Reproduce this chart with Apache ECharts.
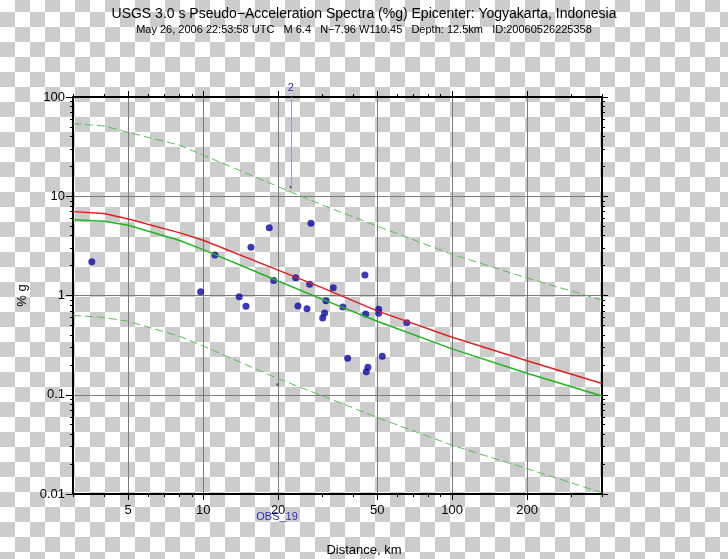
<!DOCTYPE html>
<html><head><meta charset="utf-8">
<script src="https://cdn.jsdelivr.net/npm/echarts@6/dist/echarts.min.js"></script>
<style>
html,body{margin:0;padding:0;}
body{width:728px;height:559px;overflow:hidden;
background:repeating-conic-gradient(#cccccc 0 25%, #ffffff 0 50%) 0 -3px/30px 30px;}
#chart{width:728px;height:559px;}
</style></head>
<body><div id="chart"></div>
<script>
// Distances (km) at which the model curves are read
const dist = [3, 4, 5, 8, 10, 20, 30, 50, 100, 200, 400];
// Red curve (%g)
const redCurve = [7.0, 6.7, 5.9, 4.3, 3.6, 1.8, 1.2, 0.70, 0.38, 0.22, 0.13];
// Green solid curve (%g)
const greenCurve = [5.8, 5.6, 5.1, 3.6, 2.9, 1.4, 0.92, 0.55, 0.29, 0.165, 0.097];
// Green dashed upper curve (%g)
const upperCurve = [54, 51, 44, 32.8, 26, 12.5, 8.2, 5.0, 2.6, 1.5, 0.9];
// Green dashed lower curve (%g)
const lowerCurve = [0.63, 0.60, 0.55, 0.39, 0.31, 0.145, 0.098, 0.059, 0.031, 0.018, 0.0103];

// Observed stations
const obsDist = [3.57, 9.77, 11.15, 13.96, 14.86, 15.56, 18.43, 19.19, 23.52, 24.03, 26.12, 27.1, 26.78,
  31.13, 30.75, 30.2, 33.3, 36.4, 38.05, 44.65, 44.94, 45.9, 45.19, 50.68, 50.68, 52.4, 65.8];
const obsVal = [2.19, 1.09, 2.56, 0.973, 0.778, 3.06, 4.82, 1.42, 1.51, 0.784, 0.736, 5.34, 1.30,
  0.886, 0.666, 0.593, 1.20, 0.766, 0.233, 1.61, 0.651, 0.189, 0.171, 0.726, 0.662, 0.244, 0.532];

// Small markers
const markDist = [22.5, 19.9];
const markVal = [12.4, 0.127];

// Tick values
const xMajor = [5, 10, 20, 50, 100, 200];
const xMinor = [3, 4, 6, 7, 8, 9, 30, 40, 60, 70, 80, 90, 300, 400];
const yMajor = [0.01, 0.1, 1, 10, 100];
const yMinor = [0.02, 0.03, 0.04, 0.05, 0.06, 0.07, 0.08, 0.09,
  0.2, 0.3, 0.4, 0.5, 0.6, 0.7, 0.8, 0.9,
  2, 3, 4, 5, 6, 7, 8, 9,
  20, 30, 40, 50, 60, 70, 80, 90];

const FONT = 'Liberation Sans, Arial, Helvetica, sans-serif';
const pair = (xs, ys) => xs.map((x, i) => [x, ys[i]]);

function xAx(pos, ticks, len, showLine, showLabel, split) {
  return {
    type: 'log', min: 3, max: 400, position: pos, gridIndex: 0,
    axisLine: {show: showLine, onZero: false, lineStyle: {color: '#000', width: 2}},
    axisTick: {show: true, customValues: ticks, length: len, inside: false, lineStyle: {color: '#000', width: 1}},
    axisLabel: {show: showLabel, customValues: ticks, margin: 10, color: '#000', fontSize: 13, fontFamily: FONT,
      formatter: v => String(v)},
    splitLine: {show: split, lineStyle: {color: '#7a7a7a', width: 1}},
    minorTick: {show: false}
  };
}
function yAx(pos, ticks, len, showLine, showLabel, split) {
  return {
    type: 'log', min: 0.01, max: 100, position: pos, gridIndex: 0,
    axisLine: {show: showLine, onZero: false, lineStyle: {color: '#000', width: 2}},
    axisTick: {show: true, customValues: ticks, length: len, inside: false, lineStyle: {color: '#000', width: 1}},
    axisLabel: {show: showLabel, customValues: ticks, margin: 8, color: '#000', fontSize: 13, fontFamily: FONT,
      formatter: v => String(v)},
    splitLine: {show: split, lineStyle: {color: '#7a7a7a', width: 1}},
    minorTick: {show: false}
  };
}

const xAxes = [
  xAx('bottom', xMajor, 6, true, true, true),
  xAx('bottom', xMinor, 3, false, false, false),
  xAx('top', xMajor, 6, true, false, false),
  xAx('top', xMinor, 3, false, false, false)
];
const yAxes = [
  Object.assign(yAx('left', yMajor, 7, true, true, true), {
    name: '% g', nameLocation: 'middle', nameRotate: 90, nameGap: 40,
    nameTextStyle: {color: '#000', fontSize: 13, fontFamily: FONT}
  }),
  yAx('left', yMinor, 3, false, false, false),
  yAx('right', yMajor, 6, true, false, false),
  yAx('right', yMinor, 3, false, false, false)
];

const chart = echarts.init(document.getElementById('chart'), null, {renderer: 'canvas'});
chart.setOption({
  animation: false,
  backgroundColor: 'transparent',
  title: [
    {text: 'USGS 3.0 s Pseudo\u2212Acceleration Spectra (%g) Epicenter: Yogyakarta, Indonesia',
      left: 'center', top: 2, textStyle: {fontSize: 14, fontWeight: 'normal', color: '#000', fontFamily: FONT}},
    {text: 'May 26, 2006 22:53:58 UTC   M 6.4   N\u22127.96 W110.45   Depth: 12.5km   ID:20060526225358',
      left: 'center', top: 19, textStyle: {fontSize: 11, fontWeight: 'normal', color: '#000', fontFamily: FONT}},
    {text: 'Distance, km', left: 'center', top: 539,
      textStyle: {fontSize: 13, fontWeight: 'normal', color: '#000', fontFamily: FONT}}
  ],
  grid: {left: 73, right: 126, top: 97, bottom: 65, containLabel: false},
  xAxis: xAxes,
  yAxis: yAxes,
  series: [
    {type: 'line', name: 'upper', data: pair(dist, upperCurve), showSymbol: false, silent: true,
      lineStyle: {color: '#4fc44f', width: 1, type: [8, 4]}},
    {type: 'line', name: 'lower', data: pair(dist, lowerCurve), showSymbol: false, silent: true,
      lineStyle: {color: '#4fc44f', width: 1, type: [8, 4]}},
    {type: 'line', name: 'green', data: pair(dist, greenCurve), showSymbol: false, silent: true,
      lineStyle: {color: '#1fb51f', width: 1.5}},
    {type: 'line', name: 'red', data: pair(dist, redCurve), showSymbol: false, silent: true,
      lineStyle: {color: '#e0201f', width: 1.5}},
    {type: 'scatter', name: 'marks', data: pair(markDist, markVal), symbolSize: 2.5, silent: true,
      itemStyle: {color: '#333'},
      markLine: {
        silent: true, symbol: 'none', animation: false,
        lineStyle: {color: '#9c9cc4', width: 1, type: 'solid'},
        label: {show: true, position: 'start', formatter: '2', color: '#2b2bc0', fontSize: 11, fontFamily: FONT, distance: 4},
        data: [[{coord: [markDist[0], 100]}, {coord: [markDist[0], markVal[0]]}]]
      },
      markPoint: {
        silent: true, symbol: 'circle', symbolSize: 1, itemStyle: {color: 'rgba(0,0,0,0)'},
        label: {show: true, formatter: 'OBS_19', color: '#2b2bc0', fontSize: 11, fontFamily: FONT, offset: [0, 23]},
        data: [{coord: [19.8, 0.01]}]
      }
    },
    {type: 'scatter', name: 'obs', data: pair(obsDist, obsVal), symbolSize: 7, silent: true,
      itemStyle: {color: '#0a0aa8'}}
  ]
});
</script>
</body></html>
